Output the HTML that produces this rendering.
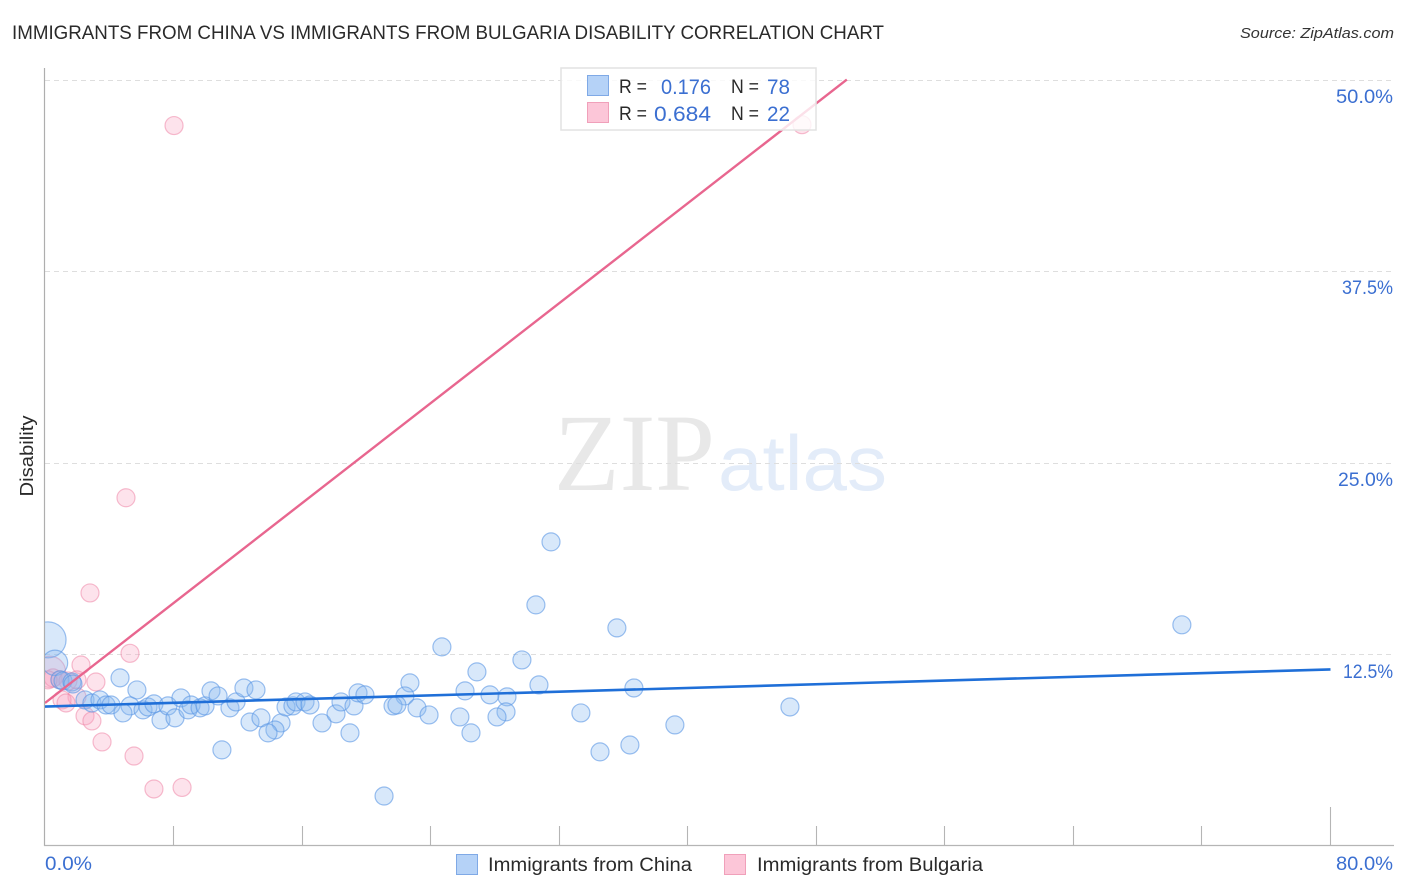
<!DOCTYPE html>
<html lang="en">
<head>
<meta charset="utf-8">
<title>Immigrants from China vs Immigrants from Bulgaria Disability Correlation Chart</title>
<style>
html,body{margin:0;padding:0;background:#fff;width:1406px;height:892px;overflow:hidden}
svg{display:block}
text{font-family:"Liberation Sans",sans-serif}
.tick{fill:#3b6fd1;font-size:19px}
.dark{fill:#2a2a2a}
</style>
</head>
<body>
<svg id="chart" xmlns="http://www.w3.org/2000/svg" width="1406" height="892" viewBox="0 0 1406 892">
  <defs>
    <clipPath id="plot-clip"><rect x="45" y="60" width="1350" height="786"/></clipPath>
  </defs>
  <rect x="0" y="0" width="1406" height="892" fill="#fff"/>
  <text x="12" y="39" font-size="19" fill="#2a2a2a" textLength="872" lengthAdjust="spacingAndGlyphs">IMMIGRANTS FROM CHINA VS IMMIGRANTS FROM BULGARIA DISABILITY CORRELATION CHART</text>
  <text x="1394" y="38" font-size="15" font-style="italic" fill="#333" text-anchor="end" textLength="154" lengthAdjust="spacingAndGlyphs">Source: ZipAtlas.com</text>

  <g>
    <text x="554" y="490" style="font-family:'Liberation Serif',serif" font-size="110" fill="#e8e8e8" textLength="161" lengthAdjust="spacingAndGlyphs">ZIP</text>
    <text x="718" y="490" font-size="78" fill="#e3ecf9" textLength="169" lengthAdjust="spacingAndGlyphs">atlas</text>
  </g>

  <g id="grid"></g>
  <g id="axes"></g>
  <g id="marks" clip-path="url(#plot-clip)"></g>

  <text class="tick" x="1336" y="103" textLength="57" lengthAdjust="spacingAndGlyphs">50.0%</text>
  <text class="tick" x="1342" y="294" textLength="51" lengthAdjust="spacingAndGlyphs">37.5%</text>
  <text class="tick" x="1338" y="486" textLength="55" lengthAdjust="spacingAndGlyphs">25.0%</text>
  <text class="tick" x="1343" y="678" textLength="50" lengthAdjust="spacingAndGlyphs">12.5%</text>

  <text transform="translate(33,456) rotate(-90)" font-size="18" fill="#2a2a2a" text-anchor="middle" textLength="81" lengthAdjust="spacingAndGlyphs">Disability</text>

  <g>
    <rect x="561" y="68" width="255" height="62" fill="#fff" fill-opacity="0.8" stroke="#e2e2e2" stroke-width="1.5"/>
    <rect x="587.5" y="75.5" width="21" height="20" fill="#b5d2f7" stroke="#7fa9e6"/>
    <rect x="587.5" y="102.5" width="21" height="20" fill="#fcc6d8" stroke="#f0a0ba"/>
    <text class="dark" x="619" y="93" font-size="19" textLength="28" lengthAdjust="spacingAndGlyphs">R =</text>
    <text x="661" y="94" font-size="21" fill="#3b6fd1" textLength="50" lengthAdjust="spacingAndGlyphs">0.176</text>
    <text class="dark" x="731" y="93" font-size="19" textLength="28" lengthAdjust="spacingAndGlyphs">N =</text>
    <text x="767" y="94" font-size="21" fill="#3b6fd1" textLength="23" lengthAdjust="spacingAndGlyphs">78</text>
    <text class="dark" x="619" y="120" font-size="19" textLength="28" lengthAdjust="spacingAndGlyphs">R =</text>
    <text x="654" y="121" font-size="21" fill="#3b6fd1" textLength="57" lengthAdjust="spacingAndGlyphs">0.684</text>
    <text class="dark" x="731" y="120" font-size="19" textLength="28" lengthAdjust="spacingAndGlyphs">N =</text>
    <text x="767" y="121" font-size="21" fill="#3b6fd1" textLength="23" lengthAdjust="spacingAndGlyphs">22</text>
  </g>

  <text class="tick" x="45" y="870" textLength="47" lengthAdjust="spacingAndGlyphs">0.0%</text>
  <text class="tick" x="1336" y="870" textLength="57" lengthAdjust="spacingAndGlyphs">80.0%</text>

  <g>
    <g>
      <rect x="456.5" y="854.5" width="21" height="20" fill="#b5d2f7" stroke="#7fa9e6"/>
      <text class="dark" x="488" y="871" font-size="19" textLength="204" lengthAdjust="spacingAndGlyphs">Immigrants from China</text>
    </g>
    <g>
      <rect x="724.5" y="854.5" width="21" height="20" fill="#fcc6d8" stroke="#f0a0ba"/>
      <text class="dark" x="757" y="871" font-size="19" textLength="226" lengthAdjust="spacingAndGlyphs">Immigrants from Bulgaria</text>
    </g>
  </g>
</svg>
<script>
const yTickValues = [12.5, 25, 37.5, 50];
const xTickValues = [8, 16, 24, 32, 40, 48, 56, 64, 72, 80];

const chinaX = [0.19,0.62,0.93,1.12,1.68,1.74,4.67,5.72,2.49,2.92,3.42,3.80,4.11,5.29,4.85,6.10,6.41,6.78,7.22,7.65,8.09,8.46,8.90,9.09,9.65,9.96,10.33,10.77,11.51,11.89,12.38,13.13,12.76,13.44,14.69,14.31,13.88,11.01,15.00,15.43,15.62,16.18,16.49,17.24,18.11,18.42,18.98,19.23,19.48,19.91,21.10,24.70,22.71,22.40,21.66,21.90,23.15,23.90,26.14,26.88,25.82,26.51,27.69,28.75,28.69,28.13,29.68,30.74,33.35,34.54,36.40,36.65,39.20,35.59,30.55,31.49,46.36,70.75];
const chinaY = [13.45,11.95,10.84,10.77,10.70,10.57,10.97,10.18,9.53,9.33,9.53,9.20,9.20,9.14,8.68,8.88,9.07,9.27,8.22,9.14,8.36,9.66,8.88,9.20,9.01,9.14,10.12,9.79,9.01,9.40,10.31,10.18,8.09,8.36,8.03,7.57,7.38,6.27,9.07,9.14,9.40,9.40,9.20,8.03,8.62,9.40,7.38,9.14,9.99,9.86,3.26,12.99,10.64,9.79,9.14,9.20,9.01,8.55,10.12,11.36,8.42,7.38,9.86,9.73,8.75,8.42,12.14,10.51,8.68,6.14,6.59,10.31,7.90,14.23,15.73,19.84,9.07,14.43];
const chinaWeight = [4,2,1,1,1,1,1,1,1,1,1,1,1,1,1,1,1,1,1,1,1,1,1,1,1,1,1,1,1,1,1,1,1,1,1,1,1,1,1,1,1,1,1,1,1,1,1,1,1,1,1,1,1,1,1,1,1,1,1,1,1,1,1,1,1,1,1,1,1,1,1,1,1,1,1,1,1,1];

const bulgariaX = [2.80,5.29,2.24,3.17,0.31,0.50,0.93,1.43,1.99,1.99,1.06,1.31,2.49,2.92,3.55,5.54,6.78,8.53,5.04,8.03,47.11,0.19];
const bulgariaY = [16.51,12.57,11.81,10.70,11.36,10.97,10.84,10.77,10.84,9.73,9.53,9.33,8.49,8.16,6.79,5.87,3.72,3.82,22.72,47.00,47.06,10.84];
const bulgariaWeight = [1,1,1,1,3,1,1,1,1,1,1,1,1,1,1,1,1,1,1,1,1,1];

const chinaTrendX = [0, 80];
const chinaTrendY = [9.1, 11.52];
const bulgariaTrendX = [0, 49.9];
const bulgariaTrendY = [9.33, 50];

const SVGNS = "http://www.w3.org/2000/svg";
function xScale(v) { return 45 + v * (1285.5 / 80); }
function yScale(v) { return 846 - v * (191.6 / 12.5); }
function rScale(w) { return 9 * Math.sqrt(w); }
function make(tag, attrs) {
  const el = document.createElementNS(SVGNS, tag);
  for (const k in attrs) el.setAttribute(k, attrs[k]);
  return el;
}

const grid = document.getElementById("grid");
const axes = document.getElementById("axes");
const marks = document.getElementById("marks");

yTickValues.forEach(function (v) {
  const py = Math.round(yScale(v)) + 0.5;
  const line = make("line", {x1: 45, x2: 1393, y1: py, y2: py, stroke: "#dedede", "stroke-width": 1, "stroke-dasharray": "5 4"});
  
  
  grid.appendChild(line);
});

const yAxis = make("line", {x1: 44.5, x2: 44.5, y1: 68, y2: 846, stroke: "#aeaeae", "stroke-width": 1.2});


axes.appendChild(yAxis);

const xAxis = make("line", {x1: 44, x2: 1394, y1: 845.5, y2: 845.5, stroke: "#b5b5b5", "stroke-width": 1.2});


axes.appendChild(xAxis);

xTickValues.forEach(function (v, i) {
  const px = Math.floor(xScale(v)) + 0.5;
  const isEnd = i === xTickValues.length - 1;
  const tick = make("line", {x1: px, x2: px, y1: isEnd ? 807 : 826, y2: 845, stroke: "#b5b5b5", "stroke-width": 1.1});
  
  
  axes.appendChild(tick);
});

bulgariaX.forEach(function (v, i) {
  const c = make("circle", {cx: xScale(v), cy: yScale(bulgariaY[i]), r: rScale(bulgariaWeight[i]), fill: "#f7a3bf", "fill-opacity": 0.3, stroke: "#ee86a8", "stroke-opacity": 0.55, "stroke-width": 1.2});
  
  
  marks.appendChild(c);
});

chinaX.forEach(function (v, i) {
  const c = make("circle", {cx: xScale(v), cy: yScale(chinaY[i]), r: rScale(chinaWeight[i]), fill: "#8ab8f0", "fill-opacity": 0.33, stroke: "#5a96e4", "stroke-opacity": 0.6, "stroke-width": 1.2});
  
  
  marks.appendChild(c);
});

const bulgariaTrend = make("line", {x1: xScale(bulgariaTrendX[0]), y1: yScale(bulgariaTrendY[0]), x2: xScale(bulgariaTrendX[1]), y2: yScale(bulgariaTrendY[1]), stroke: "#e8668f", "stroke-width": 2.4});


marks.appendChild(bulgariaTrend);

const chinaTrend = make("line", {x1: xScale(chinaTrendX[0]), y1: yScale(chinaTrendY[0]), x2: xScale(chinaTrendX[1]), y2: yScale(chinaTrendY[1]), stroke: "#1f6fd8", "stroke-width": 2.6});


marks.appendChild(chinaTrend);
</script>
</body>
</html>
